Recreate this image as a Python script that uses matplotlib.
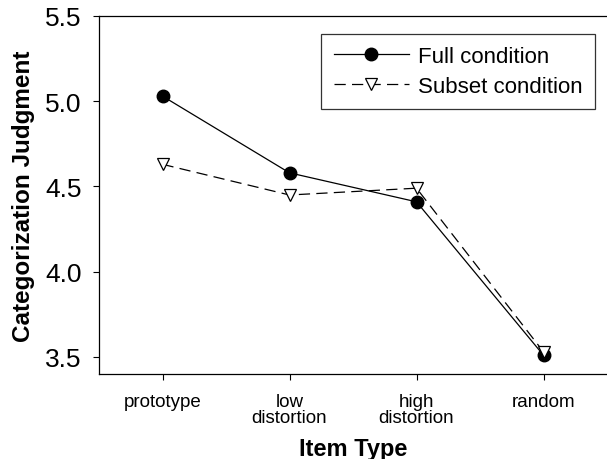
import matplotlib
matplotlib.use("Agg")
import matplotlib.pyplot as plt

categories = ["prototype", "low\ndistortion", "high\ndistortion", "random"]
full_values = [5.03, 4.58, 4.41, 3.51]
subset_values = [4.63, 4.45, 4.49, 3.53]
y_ticks = [3.5, 4.0, 4.5, 5.0, 5.5]

plt.rcParams['font.family'] = ['Liberation Sans', 'DejaVu Sans']

fig = plt.figure(figsize=(6.07, 4.60), dpi=100)
ax = fig.add_axes([99/607, 85/460, 1 - 99/607, 358/460])

x = list(range(len(categories)))
ax.plot(x, full_values, color='black', lw=0.9, marker='o', markersize=9,
        markerfacecolor='black', markeredgecolor='black', label='Full condition')
ax.plot(x, subset_values, color='black', lw=0.9, dashes=(9, 5), marker='v',
        markersize=8, markerfacecolor='white', markeredgecolor='black',
        markeredgewidth=0.9, label='Subset condition')

ax.set_xlim(-0.5, 3.5)
ax.set_ylim(3.4, 5.5)
ax.set_xticks(x)
ax.set_xticklabels(categories, fontsize=13.5, linespacing=0.95)
ax.set_yticks(y_ticks)
ax.set_yticklabels([f"{v:.1f}" for v in y_ticks], fontsize=19)
ax.tick_params(direction='out', length=4.5, width=0.8)
ax.tick_params(axis='x', pad=9)
ax.tick_params(axis='y', pad=8)

ax.spines['right'].set_visible(False)
for s in ['left', 'top', 'bottom']:
    ax.spines[s].set_linewidth(0.9)

ax.set_xlabel("Item Type", fontsize=17, fontweight='bold', labelpad=8)
ax.set_ylabel("Categorization Judgment", fontsize=17.5, fontweight='bold', labelpad=7)

leg = ax.legend(loc='upper right', bbox_to_anchor=(0.976, 0.950), borderaxespad=0,
                fontsize=16, frameon=True, fancybox=False, edgecolor='black',
                handlelength=3.4, handletextpad=0.4, borderpad=0.55, labelspacing=0.4)
leg.get_frame().set_linewidth(0.9)

fig.savefig("out.png", dpi=100)
